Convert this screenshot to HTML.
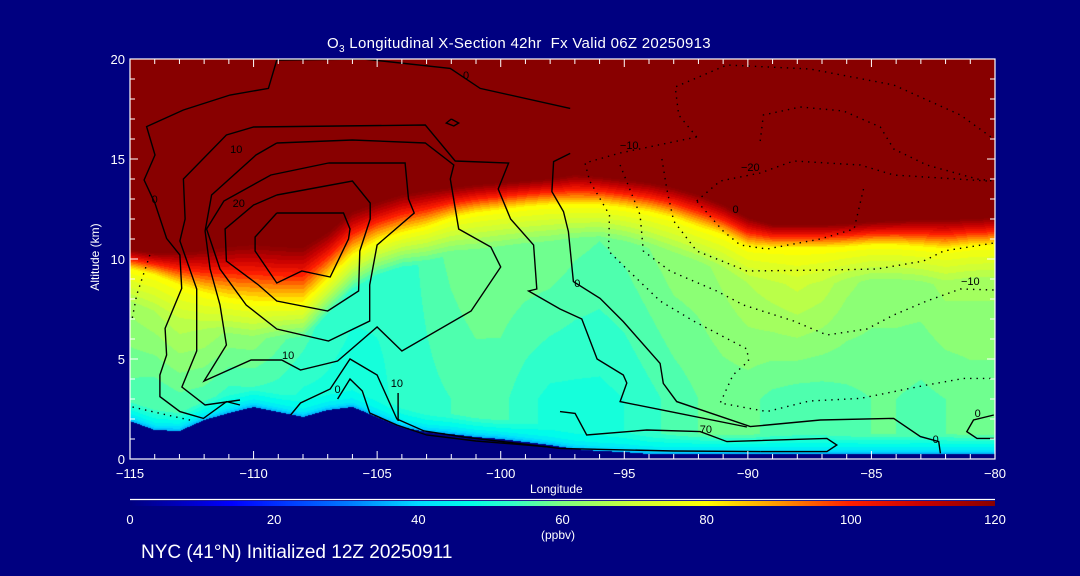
<!DOCTYPE html>
<html><head><meta charset="utf-8">
<style>
html,body{margin:0;padding:0;background:#000080;}
#root{position:relative;width:1080px;height:576px;background:#000080;overflow:hidden;font-family:"Liberation Sans",sans-serif;color:#fff;}
canvas{position:absolute;}
svg{position:absolute;left:0;top:0;}
.t{position:absolute;white-space:nowrap;color:#fff;}
</style></head>
<body>
<div id="root">
<canvas id="field" width="865" height="400" style="left:130px;top:59px"></canvas>
<canvas id="cbar" width="865" height="5" style="left:130px;top:501px"></canvas>
<svg id="ov" width="1080" height="576"></svg>
<div class="t" style="left:327px;top:35px;font-size:15px;letter-spacing:0.3px">O<sub style="font-size:10px">3</sub> Longitudinal X-Section 42hr &nbsp;Fx Valid 06Z 20250913</div>
<div class="t" style="left:30px;top:250px;font-size:12px;transform:rotate(-90deg);transform-origin:center;width:130px;text-align:center">Altitude (km)</div>
<div class="t" style="left:530px;top:482px;font-size:12px">Longitude</div>
<div class="t" style="left:541px;top:528px;font-size:12px">(ppbv)</div>
<div class="t" style="left:141px;top:542px;font-size:19px">NYC (41°N) Initialized 12Z 20250911</div>
</div>
<script>
const lons=[-115,-114,-113,-112,-111,-110,-109,-108,-107,-106,-105,-104,-103,-102,-101,-100,-99,-98,-97,-96,-95,-94,-93,-92,-91,-90,-89,-88,-87,-86,-85,-84,-83,-82,-81,-80];
const tropoTop=[10.45,10.3,10.3,10.4,10.6,10.7,10.6,10.55,11.3,12.35,12.8,13.2,13.4,13.55,13.7,13.8,13.9,14.0,14.2,14.1,13.95,13.8,13.55,13.2,12.7,12.05,11.7,11.7,11.7,11.75,11.85,11.9,11.95,11.95,12.0,12.05];
const yellowLevel=[9.5,9.2,8.7,8.3,8.0,7.85,7.8,7.8,9.0,10.2,10.9,11.3,11.6,12.05,12.3,12.45,12.6,12.7,12.7,12.7,12.55,12.35,12.05,11.6,11.2,10.6,10.55,10.55,10.55,10.6,10.7,10.7,10.6,10.5,10.65,10.7];
const upperTrop=[64,66,68,66,62,62,58,55,53,52,52,52,55,58,60,60,60,60,58,57,58,60,62,62,64,66,68,70,68,64,62,62,62,64,64,64];
const lowerTrop=[55,54,56,55,52,52,52,50,50,49,50,52,53,54,55,55,52,50,50,50,51,53,55,57,58,58,56,55,55,56,57,57,56,57,58,58];
const terrain=[1.9,1.45,1.4,1.95,2.3,2.6,2.35,2.1,2.45,2.6,2.1,1.6,1.35,1.25,1.1,1.0,0.85,0.7,0.5,0.4,0.35,0.25,0.25,0.25,0.25,0.25,0.25,0.25,0.25,0.25,0.25,0.25,0.25,0.25,0.25,0.25];
const cbTicks=[0,20,40,60,80,100,120];
const xTicks=[-115,-110,-105,-100,-95,-90,-85,-80];
const yTicks=[0,5,10,15,20];
const solidContours=[
[[-109.06,19.95],[-109.4,18.53],[-110.95,18.2],[-112.84,17.45],[-114.33,16.62],[-113.99,15.2],[-114.43,13.95],[-113.99,12.78],[-113.52,11.03],[-112.98,10.2],[-112.91,8.53],[-113.58,6.53],[-113.52,5.2],[-113.79,4.2],[-113.79,3.12],[-112.98,2.37],[-112.03,2.03],[-111.09,2.87],[-110.55,2.7]],
[[-109.06,19.95],[-105.55,20.0],[-102.04,19.53],[-100.83,18.53],[-97.19,17.53]],
[[-97.19,15.28],[-97.86,14.87],[-97.93,13.37],[-97.46,12.37],[-97.26,11.37],[-97.06,8.87],[-95.98,8.03],[-95.04,6.87],[-93.55,4.78],[-93.42,3.78],[-92.88,2.87],[-89.9,1.62],[-87.07,1.95],[-84.1,2.03],[-83.02,1.12],[-82.28,0.87],[-82.21,0.28]],
[[-110.55,2.95],[-111.96,2.7],[-112.9,3.6],[-112.3,5.4],[-112.3,8.5],[-112.98,10.9],[-112.77,12.0],[-112.84,14.0],[-111.1,16.2],[-110.0,16.6],[-103.05,16.7],[-101.84,14.9],[-99.68,14.8],[-100.1,13.5],[-99.6,12.0],[-98.67,10.7],[-98.54,8.5],[-98.87,8.4],[-97.6,7.5],[-96.72,7.0],[-96.1,5.0],[-95.04,4.2],[-94.9,3.8],[-95.17,2.87],[-93.15,2.37],[-90.04,1.6]],
[[-109.06,15.8],[-106.0,15.95],[-103.05,15.8],[-101.9,14.7],[-102.04,14.0],[-101.7,11.5],[-100.4,10.6],[-100.0,9.6],[-101.2,7.4],[-104.0,5.4],[-105.0,6.6],[-106.6,4.9],[-108.1,4.45],[-108.86,4.95],[-110.1,4.95],[-112.0,3.9],[-111.1,5.7],[-111.36,7.7],[-111.76,9.5],[-111.96,11.4],[-111.7,13.2],[-109.9,15.2],[-109.06,15.8]],
[[-106.97,14.8],[-103.87,14.8],[-103.73,13.0],[-103.5,12.3],[-105.0,10.7],[-105.3,8.7],[-105.3,6.9],[-106.97,5.9],[-109.06,6.5],[-110.3,7.7],[-111.36,9.5],[-111.9,11.5],[-111.2,12.9],[-109.3,14.2],[-106.97,14.8]],
[[-109.06,13.2],[-106.0,13.9],[-105.28,12.8],[-105.28,12.0],[-105.7,10.4],[-105.75,8.4],[-107.0,7.4],[-109.06,7.9],[-109.8,8.7],[-111.1,9.9],[-111.15,11.5],[-110.0,12.7],[-109.06,13.2]],
[[-109.06,12.3],[-106.36,12.3],[-106.1,11.5],[-106.16,11.0],[-106.9,9.1],[-108.05,9.4],[-109.06,8.8],[-109.94,10.4],[-109.94,11.1],[-109.06,12.3]],
[[-108.5,2.2],[-108.1,2.8],[-106.9,3.5],[-106.1,5.0],[-105.0,4.2],[-104.2,2.0],[-103.1,1.4],[-101.5,1.1],[-97.6,0.53],[-93.0,0.4],[-89.5,0.37]],
[[-106.6,3.0],[-106.1,4.0],[-105.6,3.4],[-105.3,2.3],[-104.2,1.7],[-103.0,1.2],[-101.0,0.9],[-98.0,0.6]],
[[-104.15,3.3],[-104.15,1.9]],
[[-97.6,2.37],[-96.99,2.28],[-96.52,1.2],[-94.09,1.45],[-91.93,1.37],[-90.85,0.87],[-86.8,1.03],[-86.4,0.7],[-86.8,0.37],[-89.5,0.37]],
[[-80.05,2.2],[-80.87,1.95],[-81.14,1.37],[-80.73,1.03],[-80.05,1.03]],
[[-102.0,17.0],[-101.7,16.8],[-101.9,16.65],[-102.2,16.8],[-102.0,17.0]]
];
const dottedContours=[
[[-92.07,16.1],[-92.8,17.2],[-92.94,18.6],[-90.85,19.7],[-87.48,19.5],[-84.1,18.7],[-81.4,17.2],[-80.05,16.0]],
[[-92.07,16.1],[-95.17,15.3],[-96.59,14.8],[-96.4,13.9],[-95.6,12.2],[-95.64,10.4],[-94.9,9.5],[-93.55,7.9],[-92.2,6.9],[-90.04,5.5],[-89.97,4.9],[-90.6,4.2],[-91.12,2.8],[-89.23,2.37],[-87.5,2.9],[-85.45,3.03],[-82.76,3.7],[-81.27,4.03],[-80.06,4.03]],
[[-95.17,14.7],[-94.36,12.2],[-94.23,10.4],[-93.15,9.4],[-91.26,8.4],[-90.18,7.7],[-88.15,6.9],[-86.8,6.2],[-85.18,6.5],[-84.1,7.2],[-82.76,7.9],[-81.4,8.5],[-80.05,8.45]],
[[-93.48,15.0],[-93.28,13.5],[-93.0,11.9],[-92.07,10.4],[-90.04,9.4],[-86.8,9.45],[-84.78,9.5],[-82.89,9.9],[-82.08,10.4],[-80.05,10.8]],
[[-92.07,12.9],[-91.12,13.9],[-89.5,14.3],[-88.15,14.9],[-85.45,14.7],[-84.1,14.2],[-80.3,13.9]],
[[-85.32,13.5],[-85.7,11.5],[-87.07,11.0],[-89.23,10.5],[-90.31,10.7],[-91.0,11.4],[-92.07,12.9]],
[[-89.5,15.9],[-89.37,17.2],[-87.88,17.6],[-86.13,17.4],[-84.64,16.6],[-84.1,15.5],[-82.76,14.7],[-80.73,14.0],[-80.05,13.9]],
[[-114.2,10.2],[-114.73,8.2],[-114.93,6.9]],
[[-114.9,2.6],[-113.5,2.2],[-112.4,1.9]]
];
const contourLabels=[["0",-101.4,19.0],["0",-114.0,12.8],["10",-110.7,15.3],["20",-110.6,12.6],["10",-108.6,5.0],["0",-106.6,3.3],["10",-104.2,3.6],["-10",-94.8,15.5],["-20",-89.9,14.4],["-10",-81.0,8.7],["0",-96.9,8.6],["70",-91.7,1.3],["0",-82.4,0.8],["0",-80.7,2.1],["0",-90.5,12.3]];

function xS(lon){return 130+(lon+115)/35*865;}
function yS(alt){return 459-alt*20;}
function interp(arr,lon){let f=(lon+115);let i=Math.max(0,Math.min(34,Math.floor(f)));let t=f-i;return arr[i]*(1-t)+arr[i+1]*t;}
const cmStops=[[0,0,0,128],[14,0,0,255],[30,0,120,255],[40,0,220,255],[47,0,255,232],[53,50,255,200],[60,128,255,128],[70,205,255,55],[80,255,255,0],[90,255,150,0],[100,255,30,0],[110,200,0,0],[120,136,0,0]];
function cmap(v){v=Math.max(0,Math.min(120,v));for(let i=0;i<cmStops.length-1;i++){const a=cmStops[i],b=cmStops[i+1];if(v<=b[0]){const t=(v-a[0])/(b[0]-a[0]);return [a[1]+(b[1]-a[1])*t,a[2]+(b[2]-a[2])*t,a[3]+(b[3]-a[3])*t];}}return [136,0,0];}
function value(lon,alt){
  const tr=interp(tropoTop,lon),ye=interp(yellowLevel,lon),up=interp(upperTrop,lon),lo=interp(lowerTrop,lon),te=interp(terrain,lon);
  if(alt<te) return -1;
  if(alt>=tr) return 120;
  if(alt>=ye) return 80+40*(alt-ye)/(tr-ye);
  let v;
  const ut=ye-1.8;
  if(alt>=ut) v=80+(up-80)*(ye-alt)/1.8;
  else if(alt>=3) v=lo+(up-lo)*(alt-3)/Math.max(0.1,ut-3);
  else v=lo;
  const h=alt-te;
  if(h<0.3) v=36+h/0.3*8;
  else if(h<1.0) v=44+(v-44)*(h-0.3)/0.7;
  return v;
}
(function(){
  const c=document.getElementById('field'),ctx=c.getContext('2d');const W=865,H=400;const img=ctx.createImageData(W,H);
  for(let py=0;py<H;py++){const alt=20-(py+0.5)/H*20;for(let px=0;px<W;px++){const lon=-115+(px+0.5)/W*35;let v=value(lon,alt);let col;
    if(v<0) col=[0,0,128]; else if(v>=119.9) col=[136,0,0]; else {v=Math.floor(v/3)*3+1.5;col=cmap(v);}
    const k=(py*W+px)*4;img.data[k]=col[0];img.data[k+1]=col[1];img.data[k+2]=col[2];img.data[k+3]=255;}}
  ctx.putImageData(img,0,0);
  const cb=document.getElementById('cbar'),cx=cb.getContext('2d');
  for(let px=0;px<865;px++){const col=cmap(px/864*120);cx.fillStyle='rgb('+col.map(Math.round).join(',')+')';cx.fillRect(px,0,1,5);}
})();
(function(){
  const svg=document.getElementById('ov');const NS='http://www.w3.org/2000/svg';
  function mk(tag,attrs){const e=document.createElementNS(NS,tag);for(const k in attrs)e.setAttribute(k,attrs[k]);svg.appendChild(e);return e;}
  solidContours.forEach(function(c){const e=mk('polyline',{points:c.map(p=>xS(p[0]).toFixed(1)+','+yS(p[1]).toFixed(1)).join(' '),fill:'none',stroke:'#000','stroke-width':1.4});
    
    });
  dottedContours.forEach(function(c){const e=mk('polyline',{points:c.map(p=>xS(p[0]).toFixed(1)+','+yS(p[1]).toFixed(1)).join(' '),fill:'none',stroke:'#000','stroke-width':1.4,'stroke-dasharray':'1.4 5'});
    
    });
  contourLabels.forEach(function(l){const e=mk('text',{x:xS(l[1]),y:yS(l[2]),'font-size':11,fill:'#000','font-family':'Liberation Sans, sans-serif','text-anchor':'middle'});e.textContent=l[0].replace('-','\u2212');
    
    });
  // frame
  const fr=mk('rect',{x:130,y:59,width:865,height:400,fill:'none',stroke:'#fff','stroke-width':1.2});
  
  
  for(let lon=-115;lon<=-80;lon++){const major=(lon%5===0);const L=major?8:5;
    const t=mk('line',{x1:xS(lon),x2:xS(lon),y1:459,y2:459-L,stroke:'#fff','stroke-width':1});
    
    
    const t2=mk('line',{x1:xS(lon),x2:xS(lon),y1:59,y2:59+L,stroke:'#fff','stroke-width':1});
    
    }
  for(let a=0;a<=20;a++){const major=(a%5===0);const L=major?8:5;
    const t=mk('line',{x1:130,x2:130+L,y1:yS(a),y2:yS(a),stroke:'#fff','stroke-width':1});
    
    
    const t2=mk('line',{x1:995,x2:995-L,y1:yS(a),y2:yS(a),stroke:'#fff','stroke-width':1});
    
    }
  xTicks.forEach(function(v){const e=mk('text',{x:xS(v),y:478,'font-size':13,fill:'#fff','font-family':'Liberation Sans, sans-serif','text-anchor':'middle'});e.textContent=String(v).replace('-','\u2212');
    
    });
  yTicks.forEach(function(v){const e=mk('text',{x:125,y:yS(v)+5,'font-size':13,fill:'#fff','font-family':'Liberation Sans, sans-serif','text-anchor':'end'});e.textContent=String(v);
    
    });
  const cl=mk('line',{x1:130,x2:995,y1:499.5,y2:499.5,stroke:'#fff','stroke-width':1.2});
  
  
  cbTicks.forEach(function(v){const e=mk('text',{x:130+v/120*865,y:524,'font-size':13,fill:'#fff','font-family':'Liberation Sans, sans-serif','text-anchor':'middle'});e.textContent=String(v);
    
    });
})();
</script>
</body></html>
